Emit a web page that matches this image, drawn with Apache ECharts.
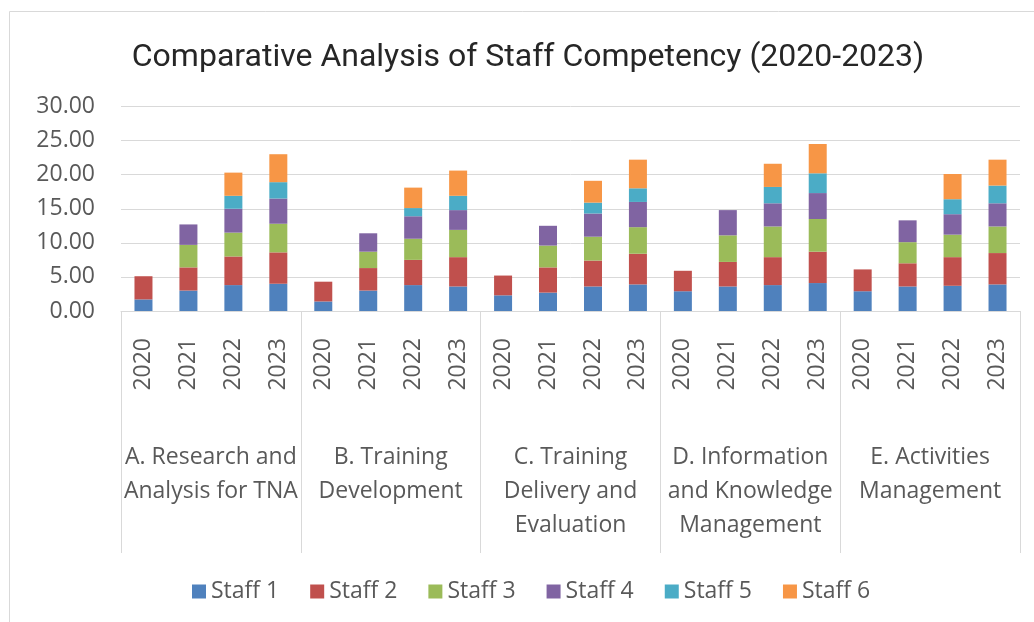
<!DOCTYPE html>
<html>
<head>
<meta charset="utf-8">
<script src="https://cdn.jsdelivr.net/npm/echarts@6/dist/echarts.min.js"></script>
<style>
  html, body { margin: 0; padding: 0; background: #fff; }
  #chart { width: 1034px; height: 622px; }
</style>
</head>
<body>
<div id="chart"></div>
<script>
// year level and group level of the category axis
const years = ['2020', '2021', '2022', '2023'];
const groups = [
  'A. Research and\nAnalysis for TNA',
  'B. Training\nDevelopment',
  'C. Training\nDelivery and\nEvaluation',
  'D. Information\nand Knowledge\nManagement',
  'E. Activities\nManagement',
];
const yTicks = { min: 0, max: 30, interval: 5 };

// values per bar, 4 years x 5 groups (A 2020..2023, B 2020..2023, ...)
const staff1 = [1.7, 3.0, 3.8, 4.0,  1.4, 3.0, 3.8, 3.6,  2.3, 2.7, 3.6, 3.9,  2.9, 3.6, 3.8, 4.1,  2.9, 3.6, 3.7, 3.9];
const staff2 = [3.4, 3.4, 4.2, 4.6,  2.9, 3.3, 3.7, 4.3,  2.9, 3.7, 3.8, 4.5,  3.0, 3.6, 4.1, 4.6,  3.2, 3.4, 4.2, 4.6];
const staff3 = [null, 3.3, 3.5, 4.2,  null, 2.4, 3.1, 4.0,  null, 3.2, 3.5, 3.9,  null, 3.9, 4.5, 4.8,  null, 3.1, 3.3, 3.9];
const staff4 = [null, 3.0, 3.5, 3.7,  null, 2.7, 3.3, 2.9,  null, 2.9, 3.4, 3.7,  null, 3.7, 3.4, 3.8,  null, 3.2, 3.0, 3.4];
const staff5 = [null, null, 1.9, 2.4,  null, null, 1.2, 2.1,  null, null, 1.6, 2.0,  null, null, 2.4, 2.9,  null, null, 2.2, 2.6];
const staff6 = [null, null, 3.4, 4.1,  null, null, 3.0, 3.7,  null, null, 3.2, 4.2,  null, null, 3.4, 4.3,  null, null, 3.7, 3.8];

const seriesNames = ['Staff 1', 'Staff 2', 'Staff 3', 'Staff 4', 'Staff 5', 'Staff 6'];
const seriesData = [staff1, staff2, staff3, staff4, staff5, staff6];
const colors = ['#4F81BD', '#C0504D', '#9BBB59', '#8064A2', '#4BACC6', '#F79646'];

const yearAxis = [];
groups.forEach(() => years.forEach((y) => yearAxis.push(y)));

const labelFont = 'Open Sans';
const chart = echarts.init(document.getElementById('chart'));

chart.setOption({
  color: colors,
  animation: false,
  title: {
    text: 'Comparative Analysis of Staff Competency (2020-2023)',
    left: 523,
    top: 37,
    textAlign: 'center',
    textStyle: { fontFamily: 'Roboto', fontSize: 32, fontWeight: 'normal', color: '#262626' },
  },
  // outer chart frame
  graphic: [
    {
      type: 'rect',
      shape: { x: 9.5, y: 11.5, width: 1100, height: 700 },
      style: { fill: 'none', stroke: '#d9d9d9', lineWidth: 1 },
      silent: true,
    },
  ],
  legend: {
    data: seriesNames,
    left: 192,
    top: 580,
    padding: 0,
    itemWidth: 14,
    itemHeight: 14,
    itemGap: 31,
    icon: 'rect',
    textStyle: { fontFamily: labelFont, fontSize: 23, color: '#595959' },
  },
  grid: { left: 121, right: 14, top: 106.5, bottom: 311, containLabel: false },
  xAxis: [
    {
      type: 'category',
      data: yearAxis,
      axisLine: { lineStyle: { color: '#d9d9d9' } },
      axisTick: { show: false },
      axisLabel: {
        interval: 0,
        rotate: 90,
        margin: 27,
        fontFamily: labelFont,
        fontSize: 23,
        color: '#595959',
      },
    },
    {
      type: 'category',
      data: groups,
      position: 'bottom',
      axisLine: { show: false },
      axisTick: { show: true, interval: 0, length: 242, lineStyle: { color: '#d9d9d9' } },
      axisLabel: {
        interval: 0,
        margin: 129,
        fontFamily: labelFont,
        fontSize: 23,
        lineHeight: 34,
        color: '#595959',
      },
    },
  ],
  yAxis: {
    type: 'value',
    min: yTicks.min,
    max: yTicks.max,
    interval: yTicks.interval,
    axisLine: { show: false },
    axisTick: { show: false },
    splitLine: { lineStyle: { color: '#d9d9d9' } },
    axisLabel: {
      margin: 26,
      fontFamily: labelFont,
      fontSize: 23,
      color: '#595959',
      formatter: (v) => v.toFixed(2),
    },
  },
  series: seriesNames.map((name, i) => ({
    name,
    type: 'bar',
    stack: 'total',
    barWidth: 18,
    xAxisIndex: 0,
    data: seriesData[i],
  })),
});
</script>
</body>
</html>
